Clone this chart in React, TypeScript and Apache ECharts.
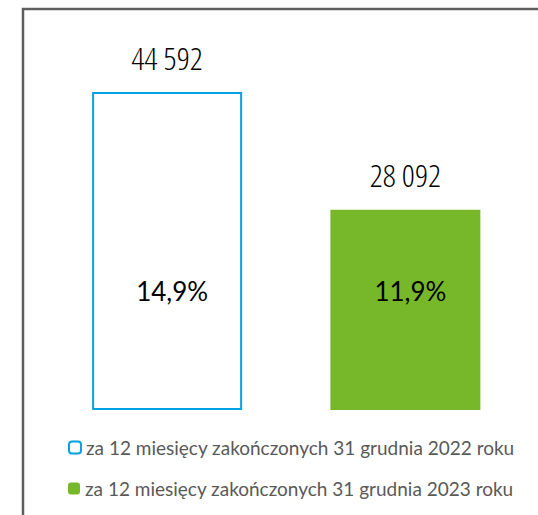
import React, { useEffect, useRef } from "react";
import * as echarts from "echarts";

const categories = ["2022", "2023"];
const seriesNames = [
  "za 12 miesięcy zakończonych 31 grudnia 2022 roku",
  "za 12 miesięcy zakończonych 31 grudnia 2023 roku",
];
const values = [44592, 28092];
const rates = ["14,9%", "11,9%"];

const fmt = (v: number) => String(v).replace(/\B(?=(\d{3})+(?!\d))/g, " ");

export default function App() {
  const ref = useRef<HTMLDivElement>(null);
  useEffect(() => {
    if (!ref.current) return;
    const chart = echarts.init(ref.current, null, { renderer: "svg" });
    const valueLabel = {
      show: true,
      position: "top",
      distance: 19,
      fontSize: 32,
      lineHeight: 32,
      fontWeight: 300,
      color: "#000",
      fontFamily: "'Open Sans';font-stretch:condensed",
      formatter: (p: any) => fmt(p.value),
    };
    const legendText = {
      fontSize: 19,
      color: "#595959",
      fontFamily: "Lato, 'Liberation Sans', sans-serif",
    };
    chart.setOption({
      animation: false,
      backgroundColor: "#fff",
      graphic: [
        {
          type: "rect",
          shape: { x: 23, y: 9, width: 700, height: 700 },
          style: { fill: "none", stroke: "#5f5f5f", lineWidth: 2.5 },
          silent: true,
        },
      ],
      grid: { left: 48, right: 13.5, top: 92, bottom: 105, containLabel: false },
      xAxis: {
        type: "category",
        data: categories,
        show: false,
      },
      yAxis: {
        type: "value",
        min: 0,
        max: "dataMax",
        show: false,
      },
      legend: [
        {
          data: [seriesNames[0]],
          left: 68,
          top: 438,
          padding: 0,
          itemWidth: 12,
          itemHeight: 12,
          textStyle: legendText,
          selectedMode: false,
        },
        {
          data: [seriesNames[1]],
          left: 68,
          top: 479,
          padding: 0,
          itemWidth: 12,
          itemHeight: 12,
          textStyle: legendText,
          selectedMode: false,
        },
      ],
      series: [
        {
          name: seriesNames[0],
          type: "bar",
          barWidth: 150,
          barGap: "-100%",
          data: [values[0], "-"],
          itemStyle: { color: "#ffffff", borderColor: "#00a2e1", borderWidth: 2 },
          label: valueLabel,
        },
        {
          name: seriesNames[1],
          type: "bar",
          barWidth: 150,
          barGap: "-100%",
          data: ["-", values[1]],
          itemStyle: { color: "#77b82a" },
          label: valueLabel,
        },
        {
          name: "rates",
          type: "bar",
          barWidth: 150,
          barGap: "-100%",
          silent: true,
          data: values,
          itemStyle: { color: "rgba(0,0,0,0)" },
          label: {
            show: true,
            position: "insideBottom",
            distance: 106,
            offset: [5, 0],
            fontSize: 26,
            color: "#000",
            fontFamily: "Lato, 'Liberation Sans', sans-serif",
            formatter: (p: any) => rates[p.dataIndex],
          },
        },
      ],
    });
    return () => chart.dispose();
  }, []);
  return (
    <div
      ref={ref}
      style={{ position: "fixed", left: 0, top: 0, width: 538, height: 515 }}
    />
  );
}
